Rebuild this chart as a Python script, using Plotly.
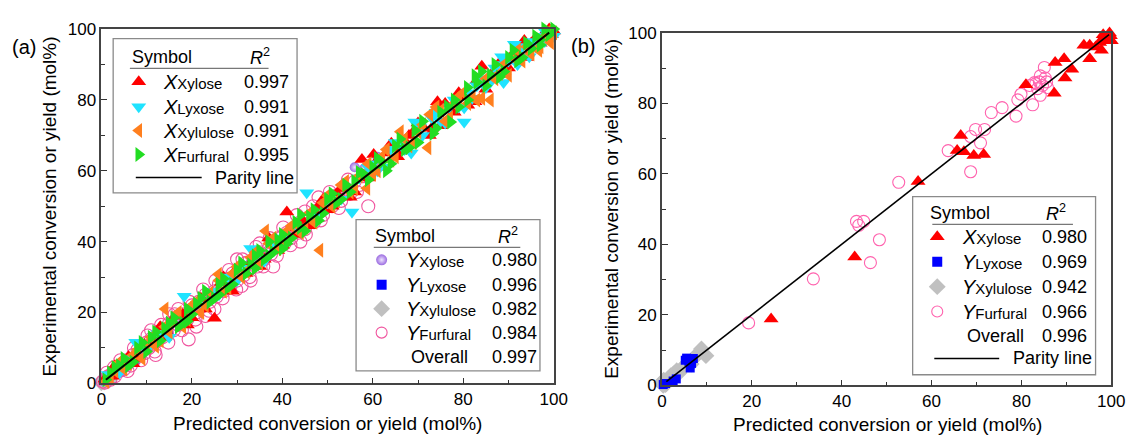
import plotly.graph_objects as go

FONT = "Liberation Sans, Arial, sans-serif"
W, H = 1143, 446

# ---------------- panel (a): predicted vs experimental, all runs ----------------
# (predicted, experimental) pairs, mol%
a_x_xylose = [(0.8, 1.2), (2.5, 2), (3, 5), (4, 5.5), (6, 7.5), (7, 5.5), (8, 7), (9.5, 11), (11, 12),
              (12, 13.5), (13, 16), (14, 13), (15.5, 17.5), (17, 19), (18, 19.5), (19, 16.5), (20, 18.5),
              (22, 24), (23, 21), (25, 18.4), (26.5, 28.5), (27, 30), (28, 27), (29, 26), (30, 32.5),
              (32, 31), (33, 34), (34, 36.5), (35, 33), (36, 35), (37, 41), (38, 40), (39, 37.5), (40, 39),
              (41, 48.4), (42.5, 44), (43, 42), (44.5, 46), (46, 44.5), (47, 48.5), (48, 50), (49, 52),
              (50, 49), (51, 50), (52, 53.5), (53, 55), (54, 55.5), (55, 52.5), (56, 54), (57.6, 63.2),
              (59, 58), (60.2, 64.6), (61, 63), (62, 61), (63, 65), (64.1, 67.8), (65.5, 64), (66, 65.5),
              (67, 68.5), (68, 70), (69, 71), (70, 73.5), (71, 72.5), (72.5, 70), (73, 72), (74.3, 79.5),
              (75, 72.7), (76, 79), (77, 77.5), (78, 76.5), (79, 82), (80, 81), (81, 78.5), (82.6, 79.5),
              (83, 85.5), (84.1, 89.5), (85, 83), (86, 87), (87, 88), (88, 90.5), (89, 88), (90, 89),
              (91, 93), (92, 91), (93.5, 96.8), (94, 92), (94, 95.5), (95, 96), (96, 97.5), (97, 96),
              (98, 99), (98.5, 97.5), (99, 100), (99.5, 98.5), (100, 99.5)]
a_x_lyxose = [(1.5, 2.5), (4, 3), (6, 7), (7.6, 11.6), (9, 11), (10, 9.5), (12.5, 14), (15, 13),
              (18.3, 24.6), (20, 21.5), (22, 22), (24, 26), (26, 25), (28, 30), (30, 29), (33, 38.1),
              (32, 32.5), (34.5, 35), (36, 34.5), (38, 39), (40, 41), (43, 44), (45.4, 53.8), (47, 47),
              (50, 51), (53, 52), (55.4, 48.4), (57, 58), (59, 61), (60, 62), (61, 60), (63, 61), (64, 66),
              (65, 68), (66, 67.5), (67, 66), (68.5, 65), (69.3, 73.8), (70.4, 72.4), (71, 70), (73, 75),
              (74, 76.5), (75, 74), (76, 73.5), (77, 78), (78, 80), (79, 78), (80.2, 73.8), (80.2, 77.8),
              (81, 82), (82, 80.5), (83, 84), (84, 86), (85, 83.5), (86, 85), (87, 89), (88.9, 84.9),
              (88.5, 92.2), (89, 90), (90, 91), (91.3, 95.7), (92, 90), (93, 95), (94.6, 92.2), (95, 96.5),
              (96, 95), (97, 98), (98, 96.5), (98, 99.5), (99, 99), (100, 98)]
a_x_xylulose = [(1, 0.5), (2, 1.5), (3, 3.5), (4, 6), (5, 4), (6, 5.5), (7, 8), (8, 9.5), (9, 7),
                (10, 11), (11, 13), (12, 10.5), (13, 12), (14.1, 21), (14, 16), (15, 14.5), (16, 17.5),
                (17, 20), (18, 16), (19, 18), (20, 22), (21, 23), (22, 20), (23, 22), (24, 25.5),
                (25.9, 30.8), (26, 29), (27, 26), (28, 27), (29, 31), (30, 33), (31, 30), (32, 31.5),
                (33, 35.5), (34, 37), (35, 34), (36.3, 43), (37, 39.5), (38, 41), (39, 38), (40, 40),
                (41, 43), (42, 44.5), (43, 45), (44, 42.5), (45, 44), (46, 48), (47, 45.5), (48.3, 37.6),
                (49, 51), (50, 53), (51, 50), (52, 51.5), (53, 56), (54, 57), (55, 54), (56, 55),
                (57, 58.5), (58.7, 55.1), (59, 62), (60, 59), (61, 60), (62, 64), (63, 66), (64, 63),
                (65, 64), (66.1, 71), (67, 69), (68, 67), (69, 68), (70, 71), (71, 73), (72.2, 66.5),
                (72.6, 75.9), (74, 78), (75, 77), (76, 74), (77, 75), (78, 79), (79, 81), (80, 82),
                (81, 79), (82, 81), (83, 80), (84.1, 80.5), (85, 86), (86, 80), (87, 86), (88, 87.5),
                (89, 90), (90, 87), (91, 92), (92, 94), (93, 91), (94, 95), (95, 93), (96.7, 94), (97, 95),
                (98, 98), (99, 99.5), (99.3, 96.2), (100, 99)]
a_x_furfural = [(1, 1), (2, 3), (3, 4.5), (4, 5), (5, 7), (6, 5), (7, 6), (8, 10), (9, 11.5), (10, 9),
                (11, 13), (12, 14.5), (13, 12), (14, 15.5), (15, 17), (16, 18.5), (17, 16), (18, 17),
                (19, 21), (19, 17.5), (20, 19.5), (21, 22.5), (22, 24), (23, 26), (24, 23), (25, 24),
                (26, 28), (26, 25), (27, 29.5), (28, 27), (29, 28), (30, 32), (31, 34), (32, 31),
                (33, 33.5), (34, 36), (34, 32.5), (35, 37.5), (36, 35), (37, 36), (37, 40), (38, 37),
                (39, 40.5), (40, 42), (40, 38), (41, 39.5), (42, 41), (43, 45.5), (44, 44), (44, 47.5),
                (45, 43), (46, 47), (47, 49), (48, 46), (49, 48), (50, 52), (51, 53.5), (52, 51), (53, 52),
                (54, 56), (55, 54), (56, 57), (57, 59.5), (58, 59), (59, 57.5), (60, 61), (61, 63.5),
                (62, 62.5), (63, 60), (64, 62), (65, 67), (66, 69), (67, 66), (68, 66.5), (69.3, 71.4),
                (70, 68), (71, 74), (73.3, 70.5), (74, 72), (75, 76.5), (76.5, 78.1), (77.2, 73.8),
                (78, 80), (79, 78), (80.9, 83.5), (81, 80), (82.6, 86.8), (83, 85), (84, 88), (85, 84),
                (86, 87), (87, 90), (88, 86.5), (89, 88), (90, 92), (91, 94), (92, 91), (93, 92), (94, 96),
                (95, 94.5), (96, 98), (97, 97), (97, 95.5), (98, 100), (99, 98.5), (100, 100)]
a_y_xylose = [(0.5, 0.5), (1, 1.5), (1.5, 1), (2, 2.5), (3, 2.5), (3.5, 4), (4, 3.5), (5, 5.5),
              (6, 5), (7, 7.5), (8, 7), (9, 9.5), (10, 10), (11, 12), (12, 11), (14, 14), (15, 16),
              (17, 17), (18, 19), (20, 20), (22, 21), (24, 25), (26, 26), (28, 29), (30, 30), (33, 34),
              (36, 36), (38, 38.5), (41, 41), (44, 45), (56, 61), (58, 60.5), (61, 64)]
a_y_lyxose = [(0.2, 0.3), (0.5, 0), (1, 0.8), (1.5, 0.5), (2.2, 1.6), (2.5, 1), (3, 2.5), (4, 3),
              (5, 4.5), (6, 5.5), (7.6, 6.5), (8, 7.5), (9, 8), (15, 14.6)]
a_y_xylulose = [(0, 0), (0.3, 0.5), (0.6, 0.2), (1, 1), (1.3, 0.6), (1.6, 1.8), (2, 1.5), (2.5, 2.2),
                (3, 3), (0.8, 1.4), (0.2, 1), (1.8, 0.8)]
a_y_furfural = [(0.3, 0.5), (0.8, 0.2), (1, 1.5), (1.2, 3), (1.5, 2), (2, 1), (2.5, 3), (2.8, 4.5),
                (3, 2), (3.5, 4.5), (4, 3.5), (4.2, 6.5), (4.5, 5), (5, 4), (5.5, 6.5), (5.8, 3.5),
                (6, 6), (6.5, 5), (7, 8), (7.2, 10), (7.5, 7), (8, 9.5), (8.5, 8), (8.8, 6.5), (9, 10),
                (9.5, 8.5), (10, 11.5), (10.2, 13.5), (10.5, 10), (11, 12.5), (11, 15), (11.5, 11),
                (11.8, 9), (12, 13), (12, 8), (12.5, 12), (13, 14.5), (13.2, 16.5), (13.5, 13), (14, 15),
                (14.5, 14), (14.8, 11.5), (15, 17), (15, 19.5), (16, 15), (16.2, 19.5), (16.5, 18),
                (17, 16.5), (17, 21), (17.8, 15), (18, 19.5), (19, 18), (19.3, 12.4), (19.5, 23), (20, 22),
                (20.8, 18), (21, 20), (21, 16), (21.5, 23), (22, 21.5), (22.5, 26.5), (23, 25), (23, 19),
                (23.8, 20.5), (24, 23), (25, 26), (25, 21), (25.2, 29), (25.5, 24.5), (26, 28), (26.8, 24),
                (27, 26), (28, 29.5), (28.2, 32), (28.5, 27), (29, 31), (29.8, 26.5), (30, 29), (30, 35),
                (31, 32), (31, 27.5), (31.2, 35), (31.5, 30.5), (32, 34), (32.8, 30), (33, 32.5), (33, 29),
                (34, 35.5), (34.2, 38.5), (34.5, 33), (35, 37), (35, 39.5), (35.8, 33), (36, 35), (37, 38),
                (37.2, 41), (37.5, 36.5), (38, 40), (38, 33), (38.8, 36), (39, 38.5), (40, 41.5),
                (40.2, 44), (40.5, 39.5), (41, 42.5), (41.8, 39), (42, 41), (43, 44), (43.2, 47.5),
                (43.5, 42.5), (44, 45.5), (44, 40), (45, 43.5), (45, 48.5), (45.2, 42), (46, 47),
                (46.8, 50), (47, 45.5), (48, 49), (48, 52.5), (48.5, 46), (49, 47.5), (50, 51), (50.5, 54),
                (51, 50), (52, 53), (52.5, 49.5), (53, 51.5), (54, 55), (54.5, 57.5), (55, 53.5), (56, 57),
                (56.5, 54), (57, 56), (58, 58.5), (59, 50), (60, 60.5)]

# ---------------- panel (b): validation runs ----------------
b_x_xylose = [(24.3, 18.8), (42.9, 36.4), (57, 57.8), (66.5, 70.9), (65.7, 66.6), (67.2, 66.3),
              (69.4, 65.2), (71.6, 65.5), (81, 85.3), (87.3, 82.9), (87.5, 91.6), (89.5, 92.7),
              (91.2, 89.7), (89.7, 87.2), (93.9, 96.5), (95.2, 92.7), (95.2, 96.5), (97.8, 95.1),
              (98.2, 99.5), (99.6, 100), (100, 97.8), (99.3, 97.8), (97.4, 97.3), (98.8, 98.6),
              (99.8, 99.2), (96.5, 96)]
b_y_lyxose = [(0.3, 0.2), (0.8, 0.5), (2.5, 1.2), (3.2, 1.8), (5.2, 7.1), (5.5, 7.7), (6.3, 4.9),
              (6.6, 6.2), (7, 7.6), (6, 6.8)]
b_y_xylulose = [(0.2, 0.3), (0.5, 1), (1, 0.5), (1.5, 2), (2, 2.7), (2.6, 3.2), (3.3, 4.1), (3.8, 3.5),
                (4.5, 4.8), (5, 5.5), (6.5, 6), (7.5, 8.2), (8.1, 9), (8.8, 10.3), (9.8, 8.4), (1.2, 1.6),
                (0.3, 0), (0.8, 0.2), (0.4, 1.4), (0, 0.8)]
b_y_furfural = [(19.3, 17.7), (33.7, 30.2), (43.3, 46.5), (43.8, 45.4), (44.9, 46.5), (46.4, 34.8),
                (48.4, 41.3), (52.7, 57.6), (63.7, 66.6), (68.7, 70.6), (69.8, 72.6), (71.8, 72.6),
                (70.9, 68.8), (68.7, 60.6), (73.3, 77.4), (75.7, 78.8), (78.8, 76.4), (79.2, 81),
                (79.9, 82.6), (82.5, 79.6), (81.8, 85.1), (83.2, 85.6), (84, 86.1), (84.7, 85.1),
                (85.3, 87.2), (85.1, 90.2), (84.2, 82.3), (85.8, 84.5), (83.6, 84.2), (82.9, 85.9),
                (84.2, 87.8), (85.6, 86.1)]

parity_a = [1, 99]
parity_b = [1, 99.5]

# legend tables
leg_a1_sym = ["X", "X", "X", "X"]
leg_a1_sub = ["Xylose", "Lyxose", "Xylulose", "Furfural"]
leg_a1_r2 = ["0.997", "0.991", "0.991", "0.995"]
leg_a2_sym = ["Y", "Y", "Y", "Y"]
leg_a2_sub = ["Xylose", "Lyxose", "Xylulose", "Furfural"]
leg_a2_r2 = ["0.980", "0.996", "0.982", "0.984"]
leg_a2_overall = "0.997"
leg_b_sym = ["X", "Y", "Y", "Y"]
leg_b_sub = ["Xylose", "Lyxose", "Xylulose", "Furfural"]
leg_b_r2 = ["0.980", "0.969", "0.942", "0.966"]
leg_b_overall = "0.996"

# marker styles
RED, CYAN, ORANGE, GREEN = "#ff0000", "#1fe3ff", "#ff7f1e", "#22dd22"
BLUE, GRAY, PURPLE, PINK = "#0000ff", "#c0c0c0", "#9a6ae0", "#f0559f"
PINK_B = "#ff62ae"

STY = {
    "xxyl": dict(symbol="triangle-up", color=RED),
    "xlyx": dict(symbol="triangle-down", color=CYAN),
    "xxlu": dict(symbol="triangle-left", color=ORANGE),
    "xfur": dict(symbol="triangle-right", color=GREEN),
    "yxyl": dict(symbol="circle", color=PURPLE, gradient=dict(type="radial", color="#eee4ff")),
    "ylyx": dict(symbol="square", color=BLUE),
    "yxlu": dict(symbol="diamond", color=GRAY),
    "yfur": dict(symbol="circle-open", color=PINK, line=dict(width=1.1, color=PINK)),
    "yfur_b": dict(symbol="circle-open", color=PINK_B, line=dict(width=1.1, color=PINK_B)),
}

fig = go.Figure()


def add_series(pairs, key, size, xa, ya):
    xs = [p[0] for p in pairs]
    ys = [p[1] for p in pairs]
    fig.add_trace(go.Scatter(x=xs, y=ys, mode="markers", xaxis=xa, yaxis=ya,
                             marker=dict(size=size, **STY[key]), cliponaxis=False,
                             showlegend=False, hoverinfo="skip"))


# panel (a): yields first, conversions on top
add_series(a_y_lyxose, "ylyx", 8, "x", "y")
add_series(a_y_xylulose, "yxlu", 12, "x", "y")
add_series(a_y_xylose, "yxyl", 10, "x", "y")
add_series(a_y_furfural, "yfur", 13, "x", "y")
add_series(a_x_xylose, "xxyl", 13, "x", "y")
add_series(a_x_lyxose, "xlyx", 13, "x", "y")
add_series(a_x_xylulose, "xxlu", 13, "x", "y")
add_series(a_x_furfural, "xfur", 13, "x", "y")
fig.add_trace(go.Scatter(x=parity_a, y=parity_a, mode="lines", xaxis="x", yaxis="y",
                         line=dict(color="black", width=2), showlegend=False, hoverinfo="skip"))

# panel (b)
add_series(b_y_xylulose, "yxlu", 13, "x2", "y2")
add_series(b_y_lyxose, "ylyx", 9, "x2", "y2")
add_series(b_y_furfural, "yfur_b", 12, "x2", "y2")
add_series(b_x_xylose, "xxyl", 13, "x2", "y2")
fig.add_trace(go.Scatter(x=parity_b, y=parity_b, mode="lines", xaxis="x2", yaxis="y2",
                         line=dict(color="black", width=1.6), showlegend=False, hoverinfo="skip"))

# ---------------- legend tables drawn on a pixel-space overlay ----------------
annotations = []
shapes = []


def txt(x, y, s, size=18, anchor="left", angle=0):
    annotations.append(dict(x=x, y=y, xref="x3", yref="y3", text=s, showarrow=False,
                            xanchor=anchor, yanchor="middle", textangle=angle,
                            font=dict(family=FONT, size=size, color="black")))


def table(box, sym_x, lbl_x, val_x, r2_x, head_y, rows_y, keys, syms, subs, vals,
          overall=None, overall_y=None, parity_y=None, parity_seg=None, parity_lbl_x=None,
          underline=None):
    x0, y0, x1, y1 = box
    shapes.append(dict(type="rect", xref="x3", yref="y3", x0=x0, y0=y0, x1=x1, y1=y1,
                       line=dict(color="#8a8a8a", width=1.3), fillcolor="white", layer="below"))
    txt(sym_x - 9, head_y, "Symbol")
    txt(r2_x, head_y, "<i>R</i><sup>2</sup>", anchor="center")
    shapes.append(dict(type="line", xref="x3", yref="y3", x0=underline[0], x1=underline[1],
                       y0=head_y + 12, y1=head_y + 12, line=dict(color="#777", width=1.2)))
    for k, s, sub, v, yy in zip(keys, syms, subs, vals, rows_y):
        mk = dict(STY[k])
        size = {"ylyx": 10, "yxyl": 11, "yfur": 11, "yfur_b": 11}.get(k, 13)
        fig.add_trace(go.Scatter(x=[sym_x], y=[yy], mode="markers", xaxis="x3", yaxis="y3",
                                 marker=dict(size=size, **mk), showlegend=False,
                                 hoverinfo="skip", cliponaxis=False))
        txt(lbl_x, yy, "<i>%s</i><span style='font-size:15px'>%s</span>" % (s, sub), size=20)
        txt(val_x, yy, v)
    if overall is not None:
        txt(lbl_x + 5, overall_y, "Overall")
        txt(val_x, overall_y, overall)
    if parity_y is not None:
        fig.add_trace(go.Scatter(x=parity_seg, y=[parity_y, parity_y], mode="lines",
                                 xaxis="x3", yaxis="y3", line=dict(color="black", width=1.6),
                                 showlegend=False, hoverinfo="skip"))
        txt(parity_lbl_x, parity_y, "Parity line")


table((110, 31, 297, 192), 136, 159, 241, 259, 50, [76, 102, 127, 152],
      ["xxyl", "xlyx", "xxlu", "xfur"], leg_a1_sym, leg_a1_sub, leg_a1_r2,
      parity_y=176, parity_seg=[133, 200], parity_lbl_x=212, underline=(127, 268))
table((357, 220, 544, 378), 383, 406, 493, 511, 237, [262, 288, 313, 338],
      ["yxyl", "ylyx", "yxlu", "yfur"], leg_a2_sym, leg_a2_sub, leg_a2_r2,
      overall=leg_a2_overall, overall_y=364, underline=(375, 524))
table((923, 196, 1109, 382), 948, 971, 1052, 1069, 213, [238, 264, 290, 316],
      ["xxyl", "ylyx", "yxlu", "yfur_b"], leg_b_sym, leg_b_sub, leg_b_r2,
      overall=leg_b_overall, overall_y=342, parity_y=365, parity_seg=[945, 1011],
      parity_lbl_x=1023, underline=(943, 1086))

# axis titles and panel labels
XT = "Predicted conversion or yield (mol%)"
YT = "Experimental conversion or yield (mol%)"
txt(328, 433, XT, size=19, anchor="center")
txt(45, 206, YT, size=19, anchor="center", angle=-90)
txt(897, 434, XT, size=19, anchor="center")
txt(616, 209, YT, size=19, anchor="center", angle=-90)
txt(5, 40, "(a)", size=20)
txt(574, 39, "(b)", size=20)

AX = dict(range=[0, 100], tickvals=[0, 20, 40, 60, 80, 100], ticks="inside", ticklen=6,
          tickwidth=1.3, tickcolor="#333", showline=True, linecolor="#444", linewidth=1.5,
          mirror=True, showgrid=False, zeroline=False,
          tickfont=dict(family=FONT, size=17, color="black"),
          minor=dict(ticks="inside", ticklen=4, tickwidth=1.2, tickcolor="#333", dtick=10,
                     tick0=0, showgrid=False))

fig.update_layout(
    width=W, height=H, margin=dict(l=0, r=0, t=0, b=0),
    paper_bgcolor="white", plot_bgcolor="rgba(0,0,0,0)",
    xaxis=dict(AX, domain=[98 / W, 558 / W], anchor="y"),
    yaxis=dict(AX, domain=[1 - 391 / H, 1 - 21 / H], anchor="x"),
    xaxis2=dict(AX, domain=[668 / W, 1125 / W], anchor="y2"),
    yaxis2=dict(AX, domain=[1 - 393 / H, 1 - 25 / H], anchor="x2"),
    xaxis3=dict(domain=[0, 1], range=[0, W], visible=False, anchor="y3", fixedrange=True),
    yaxis3=dict(domain=[0, 1], range=[H, 0], visible=False, anchor="x3", fixedrange=True),
    annotations=annotations, shapes=shapes, showlegend=False,
)

fig.write_html("out.html")
